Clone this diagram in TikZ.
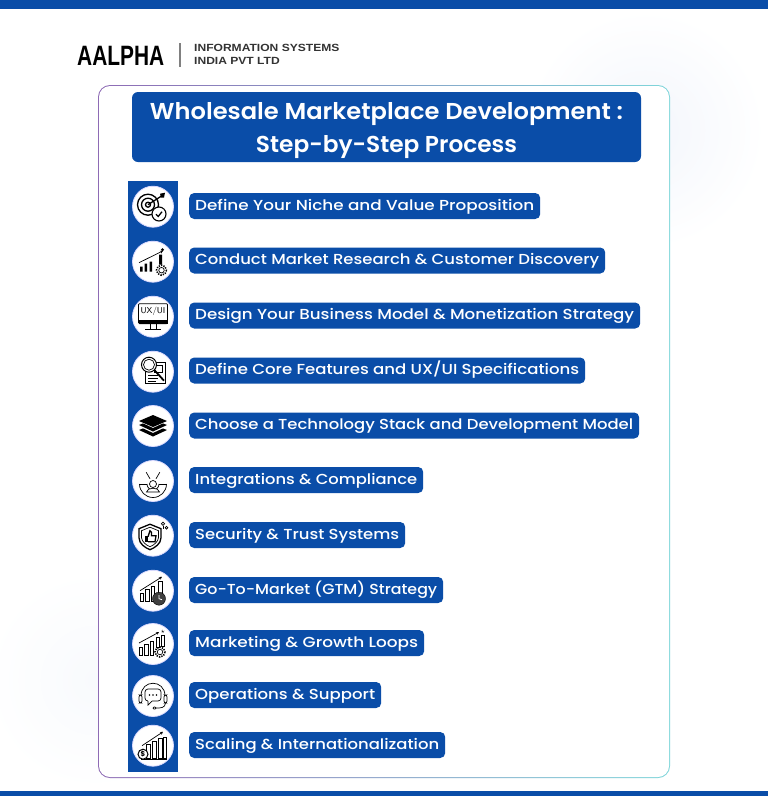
\documentclass[tikz,border=0pt]{standalone}
\usepackage{fontspec}
\setmainfont{Poppins}
\newfontfamily\titlefont{Poppins SemiBold}
\newfontfamily\pillfont{Poppins Medium}
\newfontfamily\logofont{Liberation Sans}
\usepackage{graphicx}
\definecolor{mainblue}{HTML}{0A4DA8}
\definecolor{glowblue}{HTML}{F3F6FC}
\definecolor{softblue}{HTML}{F8FAFD}
\definecolor{cardpurple}{HTML}{8E6BB5}
\definecolor{cardteal}{HTML}{7FD6DA}
\tikzset{
  pillbox/.style={fill=mainblue, text=white, rounded corners=5pt, anchor=west, minimum height=26pt, inner xsep=6pt, inner ysep=0pt, text height=10pt, text depth=2pt, font=\pillfont\fontsize{14.5}{16}\selectfont},
  iconline/.style={line width=0.7pt, black},
  iconfat/.style={line width=1.3pt, black},
}
% small gear and rising arrow used by the chart icons
\newcommand{\gearmark}[3]{
  \draw[line width=1.6pt, dash pattern=on 1.3pt off 1.2pt] (#1,#2) circle (#3);
  \fill[white] (#1,#2) circle (#3*0.55);
  \draw[iconline] (#1,#2) circle (#3*0.55);
}
\newcommand{\risearrow}[4]{
  \draw[iconline, -{Stealth[length=3pt,width=3pt]}] (#1,#2) .. controls ({(#1+#3)/2},{(#2+#4)/2+1}) .. (#3,#4);
}
\usetikzlibrary{arrows.meta}
\begin{document}
\begin{tikzpicture}[x=1pt,y=-1pt]
  \useasboundingbox (0,0) rectangle (768,796);
  \clip (0,0) rectangle (768,796);
  % background
  \fill[white] (0,0) rectangle (768,796);
  \shade[inner color=glowblue, outer color=white] (645,130) circle (120);
  \shade[inner color=softblue, outer color=white] (95,680) circle (110);
  \fill[mainblue] (0,0) rectangle (768,9);
  \fill[mainblue] (0,791) rectangle (768,796);

  % logo
  \node[anchor=west, inner sep=0pt, text=black] (logoname) at (77,55.5) {\logofont\bfseries\fontsize{28}{28}\selectfont\scalebox{0.746}[1]{AALPHA}};
  \draw[gray, line width=1.2pt] (180,43) -- (180,67);
  \node[anchor=west, inner sep=0pt, text=black!80] (logotop) at (194,48) {\logofont\bfseries\fontsize{10.4}{11}\selectfont\scalebox{1.16}[1]{INFORMATION SYSTEMS}};
  \node[anchor=west, inner sep=0pt, text=black!80] (logobottom) at (194,61) {\logofont\bfseries\fontsize{10.4}{11}\selectfont\scalebox{1.16}[1]{INDIA PVT LTD}};

  % card
  \shade[left color=cardpurple, right color=cardteal, rounded corners=12pt] (98,85) rectangle (670,778);
  \fill[white, rounded corners=11pt] (99,86) rectangle (669,777);

  % title
  \fill[mainblue, rounded corners=6pt] (132,92) rectangle (641,162);
  \node[text=white, inner sep=0pt, font=\titlefont\fontsize{23}{33}\selectfont, align=center] (title) at (386.5,131) {\resizebox{473pt}{\height}{Wholesale Marketplace Development :}\\\resizebox{261pt}{\height}{Step-by-Step Process}};

  % side bar
  \fill[mainblue] (128,181) rectangle (178,772);
  \foreach \y in {206.7,261.7,316.7,371.7,426,481,535.7,590.7,644,696,745.7} {
    \fill[white] (153,\y) circle (20.5);
    \draw[blue!15, line width=0.8pt] (153,\y) circle (20.5);
  }

  % labels
  \foreach \y/\w/\name/\txt in {
    206/339pt/define/{Define Your Niche and Value Proposition},
    260.5/404pt/research/{Conduct Market Research \& Customer Discovery},
    315.5/439pt/model/{Design Your Business Model \& Monetization Strategy},
    370.5/384pt/features/{Define Core Features and UX/UI Specifications},
    425.5/438pt/stack/{Choose a Technology Stack and Development Model},
    480/222pt/integrations/{Integrations \& Compliance},
    535/204pt/security/{Security \& Trust Systems},
    590/242pt/gtm/{Go-To-Market (GTM) Strategy},
    643/223pt/marketing/{Marketing \& Growth Loops},
    695/180pt/operations/{Operations \& Support},
    745/244pt/scaling/{Scaling \& Internationalization}} {
    \node[pillbox] (\name) at (189,\y) {\resizebox{\w}{\height}{\txt}};
  }

  % target
  \begin{scope}[shift={(153,206.7)}]
    \draw[iconfat] (-5,-2) circle (10.5);
    \draw[iconfat] (-5,-2) circle (6.5);
    \draw[iconfat] (-5,-2) circle (2.5);
    \draw[iconfat] (-5,-2) -- (9,-11);
    \fill[black] (7,-13) -- (12,-14) -- (11,-9) -- (8,-9) -- cycle;
    \filldraw[fill=white, draw=black, line width=1.1pt] (6,7.3) circle (7);
    \draw[iconfat] (3,7.5) -- (5.2,9.8) -- (9,5);
  \end{scope}
  % chart with gear
  \begin{scope}[shift={(153,261.7)}]
    \fill[black] (-13,5) rectangle (-10.5,10) (-8.5,2) rectangle (-6,10) (-3.5,0) rectangle (-1,10) (6,-7) rectangle (9,3);
    \risearrow{-14}{1}{10}{-11}
    \gearmark{8.5}{8.5}{5}
    \fill[black] (9.5,-12) circle (1.6);
  \end{scope}
  % monitor
  \begin{scope}[shift={(153,316.7)}]
    \draw[iconline, rounded corners=1pt] (-14.5,-13) rectangle (14.5,7);
    \fill[black] (-14.5,3.5) rectangle (14.5,7.5);
    \draw[iconline] (-3,7.5) -- (-3,12) (3,7.5) -- (3,12);
    \draw[iconfat] (-8,12.5) -- (8,12.5);
    \node[inner sep=0pt, font=\sffamily\fontsize{8.5}{9}\selectfont, text=black] (uxui) at (0,-5) {UX/UI};
  \end{scope}
  % magnifier and sheet
  \begin{scope}[shift={(153,371.7)}]
    \draw[iconline] (-8,-9) rectangle (12,12);
    \draw[iconline] (1,-6) rectangle (9,1);
    \draw[iconline] (-5,4) -- (5,4) (-5,7) -- (5,7) (-5,10) -- (3,10);
    \filldraw[fill=white, draw=black, line width=1pt] (-4,-7) circle (7.5);
    \draw[iconline] (-4,-7) circle (5.5);
    \draw[line width=1.8pt] (1.5,-1.5) -- (11,9);
  \end{scope}
  % layers
  \begin{scope}[shift={(153,426)}]
    \fill[black] (0,-11) -- (14,-5) -- (0,1) -- (-14,-5) -- cycle;
    \fill[black] (-14,-1) -- (-10,-2.6) -- (0,2) -- (10,-2.6) -- (14,-1) -- (0,5.5) -- cycle;
    \fill[black] (-14,4) -- (-10,2.4) -- (0,7) -- (10,2.4) -- (14,4) -- (0,10.5) -- cycle;
  \end{scope}
  % gauge with person
  \begin{scope}[shift={(153,481)}]
    \draw[iconline] (-13.5,3) -- (-6,3) (13.5,3) -- (6,3);
    \draw[iconline] (-13.5,3) arc[start angle=180, end angle=0, radius=13.5];
    \draw[iconline] (-6,3) arc[start angle=180, end angle=0, radius=6];
    \draw[iconline] (-6.75,-8.7) -- (-3,-2.2) (6.75,-8.7) -- (3,-2.2);
    \filldraw[fill=white, draw=black, line width=0.7pt] (0,3) circle (3.5);
    \filldraw[fill=white, draw=black, line width=0.7pt] (-6.5,11) .. controls (-6,6) and (6,6) .. (6.5,11) -- cycle;
  \end{scope}
  % shield
  \begin{scope}[shift={(153,535.7)}]
    \draw[iconfat] (-3,-11.5) -- (-14,-7) -- (-14,2) .. controls (-14,8) and (-8,12) .. (-3,14) .. controls (2,12) and (8,8) .. (8,2) -- (8,-7) -- cycle;
    \draw[iconline] (-3,-8.5) -- (-11.5,-5) -- (-11.5,2) .. controls (-11,6) and (-7,9.5) .. (-3,11) .. controls (1,9.5) and (5,6) .. (5.5,2) -- (5.5,-5) -- cycle;
    \fill[black] (-8,0) rectangle (-5.5,6);
    \draw[iconfat] (-5,1) -- (-3,-5) -- (-1.5,-3.5) -- (-1.5,0) -- (3,0) -- (2,6) -- (-5,6);
    \draw[iconline] (10,-12) circle (1.7) (13.5,-8) circle (1.3);
    \draw[iconline] (10,-10) -- (10,-7);
  \end{scope}
  % chart with clock
  \begin{scope}[shift={(153,590.7)}]
    \draw[iconline] (-13,3) rectangle (-9.5,11) (-7.5,-1) rectangle (-4,11) (-2,-4) rectangle (1.5,11) (5,-9) rectangle (9,3);
    \risearrow{-13}{0}{9}{-14}
    \filldraw[fill=black!75, draw=black] (6,8) circle (6.5);
    \draw[white, line width=0.8pt] (6,4.5) -- (6,8) -- (9,9);
  \end{scope}
  % chart with gear and star
  \begin{scope}[shift={(153,644)}]
    \draw[iconline] (-14,3) rectangle (-10.5,11) (-8.5,0) rectangle (-5,11) (-3,-3) rectangle (0.5,11) (3,-7) rectangle (6.5,3) (8,-9) rectangle (11.5,2);
    \risearrow{-14}{-1}{6}{-12}
    \gearmark{7}{8}{5}
    \node[inner sep=0pt, font=\fontsize{7}{7}\selectfont, text=black] (staricon) at (10,-12) {$\star$};
  \end{scope}
  % headset and chat
  \begin{scope}[shift={(153,696)}]
    \draw[iconline] (-12,0) .. controls (-12,-17) and (12,-17) .. (12,0);
    \draw[iconline, rounded corners=2pt] (-14,-1) rectangle (-11,7) (11,-1) rectangle (14,7);
    \draw[iconline] (12.5,7) .. controls (12,12) and (8,12) .. (3,12);
    \filldraw[fill=white, draw=black, line width=0.7pt, rounded corners=1pt] (0,11) rectangle (3,13);
    \draw[iconline, rounded corners=3pt] (-8,-7) rectangle (8,5);
    \fill[white] (-5,4) rectangle (-1,6);
    \draw[iconline] (-5,5) -- (-5,9) -- (-1,5);
    \fill[black] (-3.5,-1) circle (0.8) (0,-1) circle (0.8) (3.5,-1) circle (0.8);
  \end{scope}
  % chart with dollar coin
  \begin{scope}[shift={(153,745.7)}]
    \draw[iconline] (-7,-1) rectangle (-3,12.5) (-1,-4) rectangle (3,12.5) (5,-7) rectangle (9,12.5) (10.5,-8) rectangle (13,12.5);
    \draw[iconfat] (-12,13.5) -- (14,13.5);
    \risearrow{-11}{0}{10}{-14}
    \filldraw[fill=white, draw=black, line width=1pt] (-10,8.5) circle (5);
    \node[inner sep=0pt, font=\bfseries\fontsize{7}{7}\selectfont, text=black] (coin) at (-10,8.5) {\$};
  \end{scope}
\end{tikzpicture}
\end{document}
